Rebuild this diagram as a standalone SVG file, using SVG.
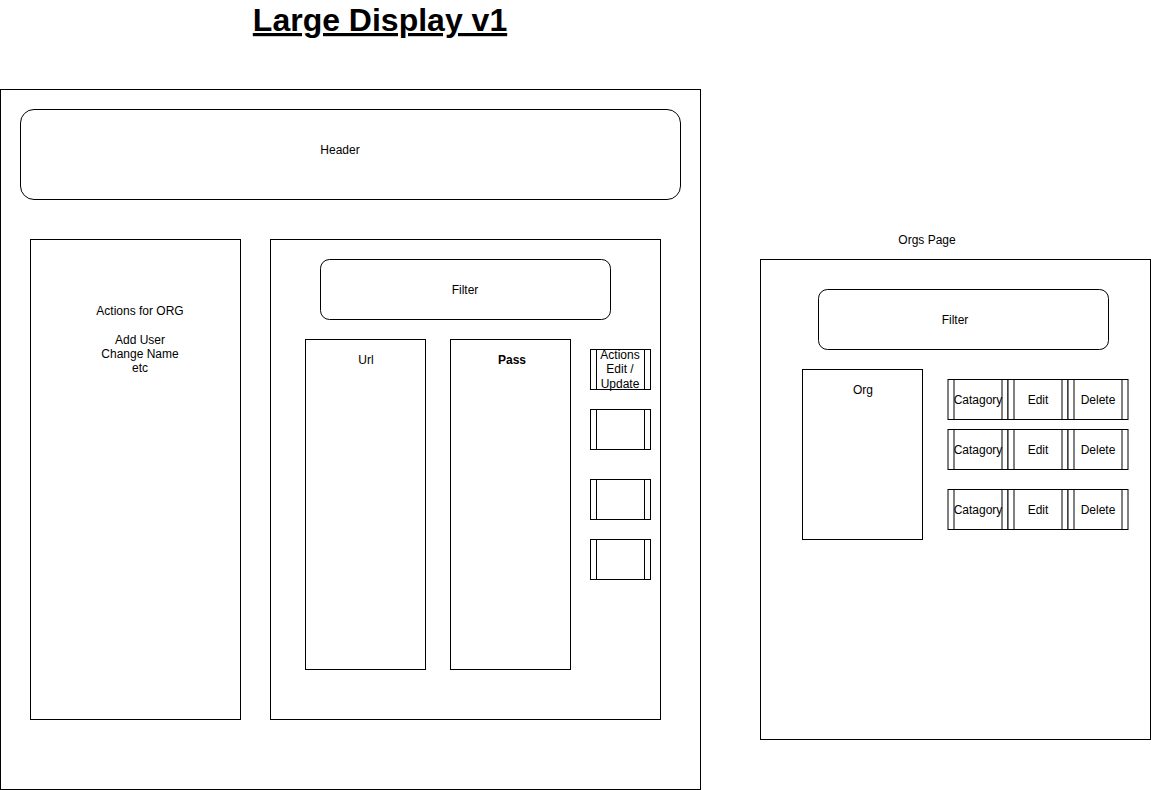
<svg xmlns="http://www.w3.org/2000/svg" width="1151" height="790" viewBox="0 0 1151 790">
  <style>
    .box { fill: #ffffff; stroke: #000000; stroke-width: 1; }
    .line { fill: none; stroke: #000000; stroke-width: 1; }
    .lbl { font-family: "Liberation Sans", Arial, sans-serif; font-size: 12px; fill: #000000; text-anchor: middle; }
    .title { font-family: "Liberation Sans", Arial, sans-serif; font-size: 32px; font-weight: bold; fill: #000000; text-anchor: middle; text-decoration: underline; }
  </style>
  <rect width="1151" height="790" fill="#ffffff"/>

  <!-- page title -->
  <g id="title">
    <text class="title" x="380" y="31">Large Display v1</text>
  </g>

  <!-- main layout frame -->
  <g id="frame">
    <rect class="box" x="0.5" y="89.5" width="700" height="700"/>
  </g>

  <g id="header">
    <rect class="box" x="20.5" y="109.5" width="660" height="90" rx="13.5" ry="13.5"/>
    <text class="lbl" x="340" y="154">Header</text>
  </g>

  <g id="org-actions">
    <rect class="box" x="30.5" y="239.5" width="210" height="480"/>
    <text class="lbl" x="140" y="315">Actions for ORG</text>
    <text class="lbl" x="140" y="344">Add User</text>
    <text class="lbl" x="140" y="358">Change Name</text>
    <text class="lbl" x="140" y="372">etc</text>
  </g>

  <g id="content">
    <rect class="box" x="270.5" y="239.5" width="390" height="480"/>
  </g>

  <g id="filter">
    <rect class="box" x="320.5" y="259.5" width="290" height="60" rx="9" ry="9"/>
    <text class="lbl" x="465" y="294">Filter</text>
  </g>

  <g id="url-column">
    <rect class="box" x="305.5" y="339.5" width="120" height="330"/>
    <text class="lbl" x="366" y="364">Url</text>
  </g>

  <g id="pass-column">
    <rect class="box" x="450.5" y="339.5" width="120" height="330"/>
    <text class="lbl" x="512" y="364" font-weight="bold">Pass</text>
  </g>

  <!-- row action buttons (process shapes) -->
  <g id="actions-1">
    <rect class="box" x="590.5" y="349.5" width="60" height="40"/>
    <path class="line" d="M596.5 349.5V389.5M644.5 349.5V389.5"/>
    <text class="lbl" x="620" y="359">Actions</text>
    <text class="lbl" x="620" y="373">Edit /</text>
    <text class="lbl" x="620" y="388">Update</text>
  </g>
  <g id="actions-2">
    <rect class="box" x="590.5" y="409.5" width="60" height="40"/>
    <path class="line" d="M596.5 409.5V449.5M644.5 409.5V449.5"/>
  </g>
  <g id="actions-3">
    <rect class="box" x="590.5" y="479.5" width="60" height="40"/>
    <path class="line" d="M596.5 479.5V519.5M644.5 479.5V519.5"/>
  </g>
  <g id="actions-4">
    <rect class="box" x="590.5" y="539.5" width="60" height="40"/>
    <path class="line" d="M596.5 539.5V579.5M644.5 539.5V579.5"/>
  </g>

  <!-- orgs page -->
  <g id="orgs-page">
    <text class="lbl" x="927" y="244">Orgs Page</text>
    <rect class="box" x="760.5" y="259.5" width="390" height="480"/>
  </g>

  <g id="orgs-filter">
    <rect class="box" x="818.5" y="289.5" width="290" height="60" rx="9" ry="9"/>
    <text class="lbl" x="955" y="324">Filter</text>
  </g>

  <g id="org-list">
    <rect class="box" x="802.5" y="369.5" width="120" height="170"/>
    <text class="lbl" x="863" y="394">Org</text>
  </g>

  <g id="org-row-1">
    <rect class="box" x="948" y="379.5" width="60" height="40"/>
    <path class="line" d="M954 379.5V419.5M1002 379.5V419.5"/>
    <text class="lbl" x="978" y="404">Catagory</text>
    <rect class="box" x="1008" y="379.5" width="60" height="40"/>
    <path class="line" d="M1014 379.5V419.5M1062 379.5V419.5"/>
    <text class="lbl" x="1038" y="404">Edit</text>
    <rect class="box" x="1068" y="379.5" width="60" height="40"/>
    <path class="line" d="M1074 379.5V419.5M1122 379.5V419.5"/>
    <text class="lbl" x="1098" y="404">Delete</text>
  </g>

  <g id="org-row-2">
    <rect class="box" x="948" y="429.5" width="60" height="40"/>
    <path class="line" d="M954 429.5V469.5M1002 429.5V469.5"/>
    <text class="lbl" x="978" y="454">Catagory</text>
    <rect class="box" x="1008" y="429.5" width="60" height="40"/>
    <path class="line" d="M1014 429.5V469.5M1062 429.5V469.5"/>
    <text class="lbl" x="1038" y="454">Edit</text>
    <rect class="box" x="1068" y="429.5" width="60" height="40"/>
    <path class="line" d="M1074 429.5V469.5M1122 429.5V469.5"/>
    <text class="lbl" x="1098" y="454">Delete</text>
  </g>

  <g id="org-row-3">
    <rect class="box" x="948" y="489.5" width="60" height="40"/>
    <path class="line" d="M954 489.5V529.5M1002 489.5V529.5"/>
    <text class="lbl" x="978" y="514">Catagory</text>
    <rect class="box" x="1008" y="489.5" width="60" height="40"/>
    <path class="line" d="M1014 489.5V529.5M1062 489.5V529.5"/>
    <text class="lbl" x="1038" y="514">Edit</text>
    <rect class="box" x="1068" y="489.5" width="60" height="40"/>
    <path class="line" d="M1074 489.5V529.5M1122 489.5V529.5"/>
    <text class="lbl" x="1098" y="514">Delete</text>
  </g>

  <!-- no connectors in this layout -->
  <g id="connectors"/>
</svg>
